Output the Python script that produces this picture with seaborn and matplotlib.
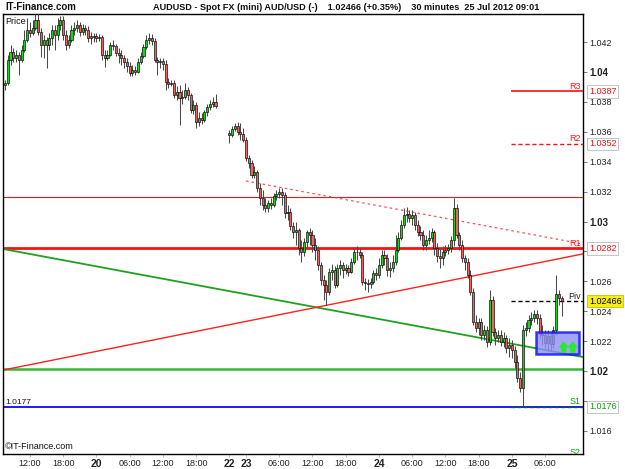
import numpy as np
import pandas as pd
import matplotlib
matplotlib.use("Agg")
import matplotlib.pyplot as plt
import matplotlib.transforms as mtransforms
from matplotlib.patches import Rectangle
import seaborn as sns

# ---------------- data (AUD/USD 30-minute candles) ----------------
# Thursday 19 Jul 07:30 .. 23:30
open_19 = [1.03913, 1.03927, 1.04080, 1.04134, 1.04094, 1.04114, 1.04080, 1.04147, 1.04214, 1.04281, 1.04261,
           1.04295, 1.04348, 1.04268, 1.04181, 1.04214, 1.04181, 1.04228, 1.04281, 1.04248, 1.04315, 1.04348,
           1.04248, 1.04181, 1.04214, 1.04281, 1.04295, 1.04315, 1.04268, 1.04295, 1.04281, 1.04228, 1.04241]
high_19 = [1.03947, 1.04114, 1.04181, 1.04161, 1.04147, 1.04134, 1.04181, 1.04281, 1.04362, 1.04335, 1.04348,
           1.04388, 1.04388, 1.04295, 1.04248, 1.04234, 1.04261, 1.04315, 1.04315, 1.04362, 1.04375, 1.04375,
           1.04281, 1.04248, 1.04315, 1.04335, 1.04348, 1.04335, 1.04321, 1.04315, 1.04308, 1.04268, 1.04261]
low_19 = [1.03880, 1.03913, 1.04047, 1.04067, 1.04067, 1.03980, 1.04067, 1.04134, 1.04201, 1.04234, 1.04248,
          1.04281, 1.04248, 1.04101, 1.04094, 1.04027, 1.04147, 1.04181, 1.04147, 1.04214, 1.04281, 1.04214,
          1.04147, 1.04161, 1.04201, 1.04248, 1.04268, 1.04241, 1.04248, 1.04248, 1.04201, 1.04188, 1.04201]
close_19 = [1.03927, 1.04080, 1.04134, 1.04094, 1.04114, 1.04080, 1.04147, 1.04214, 1.04281, 1.04261, 1.04295,
            1.04348, 1.04268, 1.04181, 1.04214, 1.04181, 1.04228, 1.04281, 1.04248, 1.04315, 1.04348, 1.04248,
            1.04181, 1.04214, 1.04281, 1.04295, 1.04315, 1.04268, 1.04295, 1.04281, 1.04228, 1.04241, 1.04234]

# Friday 20 Jul 00:00 .. 21:30
open_20 = [1.04241, 1.04228, 1.04234, 1.04114, 1.04094, 1.04114, 1.04181, 1.04174, 1.04127, 1.04114, 1.04094,
           1.04067, 1.04040, 1.03994, 1.04014, 1.04000, 1.04067, 1.04107, 1.04168, 1.04214, 1.04228, 1.04208,
           1.04080, 1.04067, 1.04074, 1.04054, 1.03934, 1.03920, 1.03927, 1.03846, 1.03867, 1.03826, 1.03833,
           1.03880, 1.03846, 1.03746, 1.03780, 1.03666, 1.03693, 1.03679, 1.03733, 1.03766, 1.03786, 1.03800]
high_20 = [1.04261, 1.04255, 1.04248, 1.04147, 1.04147, 1.04201, 1.04214, 1.04188, 1.04161, 1.04147, 1.04114,
           1.04094, 1.04067, 1.04047, 1.04040, 1.04094, 1.04134, 1.04188, 1.04248, 1.04261, 1.04255, 1.04228,
           1.04101, 1.04094, 1.04094, 1.04080, 1.03960, 1.03947, 1.03947, 1.03907, 1.03913, 1.03880, 1.03927,
           1.03900, 1.03860, 1.03813, 1.03800, 1.03733, 1.03726, 1.03746, 1.03786, 1.03813, 1.03833, 1.03853]
low_20 = [1.04201, 1.04208, 1.04080, 1.04034, 1.04080, 1.04107, 1.04147, 1.04107, 1.04060, 1.04047, 1.04027,
          1.04000, 1.03974, 1.03974, 1.03980, 1.03994, 1.04054, 1.04094, 1.04154, 1.04188, 1.04181, 1.04067,
          1.03980, 1.04027, 1.04014, 1.03880, 1.03893, 1.03907, 1.03826, 1.03813, 1.03646, 1.03786, 1.03820,
          1.03813, 1.03726, 1.03719, 1.03626, 1.03639, 1.03652, 1.03666, 1.03706, 1.03746, 1.03766, 1.03760]
close_20 = [1.04228, 1.04234, 1.04114, 1.04094, 1.04114, 1.04181, 1.04174, 1.04127, 1.04114, 1.04094, 1.04067,
            1.04040, 1.03994, 1.04014, 1.04000, 1.04067, 1.04107, 1.04168, 1.04214, 1.04228, 1.04208, 1.04080,
            1.04067, 1.04074, 1.04054, 1.03934, 1.03920, 1.03927, 1.03846, 1.03867, 1.03826, 1.03833, 1.03880,
            1.03846, 1.03746, 1.03780, 1.03666, 1.03693, 1.03679, 1.03733, 1.03766, 1.03786, 1.03800, 1.03773]

# Sunday 22 Jul 21:00 .. 23:30
open_22 = [1.03592, 1.03579, 1.03619, 1.03639, 1.03599, 1.03586]
high_22 = [1.03612, 1.03639, 1.03659, 1.03666, 1.03659, 1.03626]
low_22 = [1.03525, 1.03566, 1.03606, 1.03579, 1.03546, 1.03532]
close_22 = [1.03579, 1.03619, 1.03639, 1.03599, 1.03586, 1.03546]

# Monday 23 Jul 00:00 .. 23:30
open_23 = [1.03545, 1.03425, 1.03392, 1.03311, 1.03331, 1.03224, 1.03157, 1.03111, 1.03091, 1.03124, 1.03111,
           1.03171, 1.03184, 1.03198, 1.03177, 1.03057, 1.03064, 1.02970, 1.02930, 1.02943, 1.02823, 1.02796,
           1.02863, 1.02930, 1.02910, 1.02843, 1.02810, 1.02709, 1.02609, 1.02575, 1.02528, 1.02662, 1.02676,
           1.02575, 1.02689, 1.02709, 1.02676, 1.02689, 1.02662, 1.02729, 1.02796, 1.02796, 1.02776, 1.02595,
           1.02589, 1.02582, 1.02595, 1.02656]
high_23 = [1.03565, 1.03445, 1.03412, 1.03371, 1.03345, 1.03258, 1.03211, 1.03157, 1.03144, 1.03157, 1.03191,
           1.03211, 1.03224, 1.03224, 1.03198, 1.03111, 1.03091, 1.02997, 1.02997, 1.02957, 1.02876, 1.02890,
           1.02943, 1.02957, 1.02943, 1.02890, 1.02836, 1.02729, 1.02642, 1.02609, 1.02689, 1.02716, 1.02703,
           1.02716, 1.02743, 1.02729, 1.02716, 1.02709, 1.02756, 1.02823, 1.02836, 1.02823, 1.02796, 1.02622,
           1.02616, 1.02622, 1.02676, 1.02689]
low_23 = [1.03405, 1.03358, 1.03291, 1.03291, 1.03198, 1.03111, 1.03077, 1.03064, 1.03064, 1.03084, 1.03097,
          1.03144, 1.03157, 1.03111, 1.03024, 1.03010, 1.02943, 1.02890, 1.02843, 1.02776, 1.02729, 1.02769,
          1.02823, 1.02843, 1.02796, 1.02743, 1.02676, 1.02575, 1.02475, 1.02441, 1.02508, 1.02609, 1.02555,
          1.02562, 1.02642, 1.02622, 1.02649, 1.02636, 1.02656, 1.02716, 1.02743, 1.02756, 1.02575, 1.02542,
          1.02528, 1.02555, 1.02582, 1.02609]
close_23 = [1.03425, 1.03392, 1.03311, 1.03331, 1.03224, 1.03157, 1.03111, 1.03091, 1.03124, 1.03111, 1.03171,
            1.03184, 1.03198, 1.03177, 1.03057, 1.03064, 1.02970, 1.02930, 1.02943, 1.02823, 1.02796, 1.02863,
            1.02930, 1.02910, 1.02843, 1.02810, 1.02709, 1.02609, 1.02575, 1.02528, 1.02662, 1.02676, 1.02575,
            1.02689, 1.02709, 1.02676, 1.02689, 1.02662, 1.02729, 1.02796, 1.02796, 1.02776, 1.02595, 1.02589,
            1.02582, 1.02595, 1.02656, 1.02642]

# Tuesday 24 Jul 00:00 .. 23:30
open_24 = [1.02642, 1.02709, 1.02776, 1.02756, 1.02676, 1.02689, 1.02729, 1.02810, 1.02890, 1.02977, 1.03044,
           1.03050, 1.03024, 1.03044, 1.02977, 1.02930, 1.02910, 1.02843, 1.02876, 1.02890, 1.02930, 1.02823,
           1.02769, 1.02756, 1.02796, 1.02810, 1.02823, 1.02876, 1.03091, 1.02910, 1.02843, 1.02756, 1.02729,
           1.02642, 1.02528, 1.02328, 1.02288, 1.02328, 1.02241, 1.02274, 1.02194, 1.02475, 1.02261, 1.02221,
           1.02241, 1.02194, 1.02221, 1.02154]
high_24 = [1.02756, 1.02810, 1.02810, 1.02783, 1.02729, 1.02776, 1.02910, 1.02930, 1.03010, 1.03091, 1.03097,
           1.03077, 1.03077, 1.03064, 1.03010, 1.02970, 1.02943, 1.02910, 1.02943, 1.02957, 1.02943, 1.02856,
           1.02823, 1.02836, 1.02843, 1.02850, 1.02903, 1.03157, 1.03117, 1.02930, 1.02876, 1.02776, 1.02756,
           1.02676, 1.02555, 1.02375, 1.02355, 1.02355, 1.02308, 1.02301, 1.02542, 1.02502, 1.02288, 1.02274,
           1.02274, 1.02261, 1.02241, 1.02221]
low_24 = [1.02622, 1.02689, 1.02709, 1.02636, 1.02629, 1.02662, 1.02709, 1.02796, 1.02876, 1.02957, 1.02997,
          1.02997, 1.02977, 1.02943, 1.02903, 1.02876, 1.02810, 1.02810, 1.02850, 1.02863, 1.02776, 1.02729,
          1.02689, 1.02709, 1.02769, 1.02783, 1.02796, 1.02836, 1.02890, 1.02810, 1.02729, 1.02676, 1.02622,
          1.02508, 1.02308, 1.02261, 1.02241, 1.02207, 1.02207, 1.02161, 1.02174, 1.02234, 1.02174, 1.02194,
          1.02167, 1.02161, 1.02120, 1.02094]
close_24 = [1.02709, 1.02776, 1.02756, 1.02676, 1.02689, 1.02729, 1.02810, 1.02890, 1.02977, 1.03044, 1.03050,
            1.03024, 1.03044, 1.02977, 1.02930, 1.02910, 1.02843, 1.02876, 1.02890, 1.02930, 1.02823, 1.02769,
            1.02756, 1.02796, 1.02810, 1.02823, 1.02876, 1.03091, 1.02910, 1.02843, 1.02756, 1.02729, 1.02642,
            1.02528, 1.02328, 1.02288, 1.02328, 1.02241, 1.02274, 1.02194, 1.02475, 1.02261, 1.02221, 1.02241,
            1.02194, 1.02221, 1.02154, 1.02174]

# Wednesday 25 Jul 00:00 .. 09:00
open_25 = [1.02174, 1.02140, 1.02060, 1.01953, 1.01886, 1.02274, 1.02288, 1.02341, 1.02355, 1.02381, 1.02355,
           1.02248, 1.02241, 1.02187, 1.02234, 1.02181, 1.02274, 1.02515, 1.02488]
high_25 = [1.02207, 1.02167, 1.02107, 1.01993, 1.02308, 1.02328, 1.02375, 1.02395, 1.02408, 1.02408, 1.02381,
           1.02308, 1.02274, 1.02274, 1.02261, 1.02301, 1.02642, 1.02542, 1.02502]
low_25 = [1.02087, 1.02020, 1.01927, 1.01860, 1.01765, 1.02234, 1.02261, 1.02308, 1.02328, 1.02315, 1.02221,
          1.02174, 1.02154, 1.02140, 1.02140, 1.02154, 1.02241, 1.02441, 1.02368]
close_25 = [1.02140, 1.02060, 1.01953, 1.01886, 1.02274, 1.02288, 1.02341, 1.02355, 1.02381, 1.02355, 1.02248,
            1.02241, 1.02187, 1.02234, 1.02181, 1.02274, 1.02515, 1.02488, 1.02466]

session_starts = ["2012-07-19 07:30", "2012-07-20 00:00", "2012-07-22 21:00",
                  "2012-07-23 00:00", "2012-07-24 00:00", "2012-07-25 00:00"]

# price levels
level_R3 = 1.0387
level_R2 = 1.0352
level_R1 = 1.0282
level_pivot = 1.02466
level_S1 = 1.0176
level_upper = 1.03164
level_support = 1.02013
low_mark = "1.0177"

# trend lines: (time, price) anchors
green_trend = [("2012-07-19 07:30", 1.02814), ("2012-07-25 09:00", 1.02120)]
red_trend = [("2012-07-19 07:30", 1.02009), ("2012-07-25 09:00", 1.02755)]
dotted_trend = [("2012-07-23 00:00", 1.03271), ("2012-07-25 09:00", 1.02876)]

# signal box (prices)
box_low, box_high = 1.02114, 1.02261

# axis values (labels hidden behind level boxes are left blank)
price_ticks = [1.016, 1.018, 1.020, 1.022, 1.024, 1.026, 1.028, 1.030, 1.032, 1.034, 1.036, 1.038, 1.040, 1.042]
price_labels = ["1.016", "", "1.02", "1.022", "1.024", "1.026", "", "1.03", "1.032", "1.034", "1.036",
                "1.038", "1.04", "1.042"]

# ---------------- assemble ----------------
opens = np.array(open_19 + open_20 + open_22 + open_23 + open_24 + open_25)
highs = np.array(high_19 + high_20 + high_22 + high_23 + high_24 + high_25)
lows = np.array(low_19 + low_20 + low_22 + low_23 + low_24 + low_25)
closes = np.array(close_19 + close_20 + close_22 + close_23 + close_24 + close_25)
counts = [len(open_19), len(open_20), len(open_22), len(open_23), len(open_24), len(open_25)]
times = pd.DatetimeIndex(np.concatenate(
    [pd.date_range(s, periods=n, freq="30min").values for s, n in zip(session_starts, counts)]))
weekend_gap = 4
pos = np.arange(len(times)) + np.where(times >= pd.Timestamp("2012-07-22"), weekend_gap, 0)
time_to_pos = dict(zip(times, pos))

df = pd.DataFrame({"time": times, "pos": pos, "open": opens, "high": highs, "low": lows, "close": closes})

sns.set_theme(style="white")
plt.rcParams['font.family'] = ['Liberation Sans', 'DejaVu Sans']

W, H = 625, 469
fig = plt.figure(figsize=(W / 100, H / 100), dpi=100)
fig.patch.set_facecolor("white")
ax = fig.add_axes([3 / W, 1 - 454 / H, 580 / W, 440 / H])
ax.set_facecolor("white")

xmin = -0.72
xmax = xmin + 580 / 2.77
ymin, ymax = 1.01445, 1.04388
ax.set_xlim(xmin, xmax)
ax.set_ylim(ymin, ymax)

# candles
up = df["close"] >= df["open"]
body_col = np.where(up, "#1fd01f", "#ea6464")
ax.vlines(df["pos"], df["low"], df["high"], color="#4a4a4a", lw=0.75, zorder=3)
ax.bar(df["pos"], np.maximum((df["close"] - df["open"]).abs(), 0.00003),
       bottom=np.minimum(df["open"], df["close"]), width=0.75,
       color=body_col, edgecolor="black", linewidth=0.45, zorder=4)

# levels
wed_start = df.loc[df["time"] >= pd.Timestamp("2012-07-25"), "pos"].iloc[0] - 0.5
ax.axhline(level_upper, color="#e31a1a", lw=0.8, zorder=2)
ax.axhline(level_R1, color="#ff1010", lw=2.0, zorder=2)
ax.axhline(level_support, color="#33b833", lw=1.8, zorder=2)
ax.axhline(level_S1, color="#1a1aff", lw=1.4, zorder=2)
ax.hlines(level_S1, wed_start, xmax, color="#116611", lw=1.0, linestyles=(0, (2.5, 2)), zorder=2.1)
ax.hlines(level_R3, wed_start, xmax, color="#ff1010", lw=1.2, zorder=2)
ax.hlines(level_R2, wed_start, xmax, color="#ff1010", lw=1.0, linestyles=(0, (3, 2)), zorder=2)
ax.hlines(level_pivot, wed_start, xmax, color="black", lw=1.0, linestyles=(0, (3, 2)), zorder=2)


def trend_xy(anchors, x0, x1):
    (t0, p0), (t1, p1) = anchors
    a0, a1 = time_to_pos[pd.Timestamp(t0)], time_to_pos[pd.Timestamp(t1)]
    slope = (p1 - p0) / (a1 - a0)
    xs = np.array([x0, x1])
    return xs, p0 + slope * (xs - a0)


gx, gy = trend_xy(green_trend, xmin, xmax)
sns.lineplot(x=gx, y=gy, ax=ax, color="#1fa01f", lw=1.3, zorder=2.5)
rx, ry = trend_xy(red_trend, xmin, xmax)
sns.lineplot(x=rx, y=ry, ax=ax, color="#ff2020", lw=1.0, zorder=2.5)
d0 = time_to_pos[pd.Timestamp(dotted_trend[0][0])]
dx, dy = trend_xy(dotted_trend, d0, xmax)
ax.plot(dx, dy, color="#ff3030", lw=0.9, ls=(0, (2, 2.5)), alpha=0.85, zorder=2.5)

# signal box with arrows
last_pos = df["pos"].iloc[-1]
box_left = last_pos - 9.4
box = Rectangle((box_left, box_low), 15.5, box_high - box_low, facecolor="#8f8ff5", alpha=0.8,
                edgecolor="#0a0aff", lw=1.8, zorder=5)
ax.add_patch(box)
for ax_x in (last_pos + 0.7, last_pos + 4.0):
    ax.annotate("", xy=(ax_x, box_low + 0.00085), xytext=(ax_x, box_low + 0.00008),
                arrowprops=dict(arrowstyle="simple,head_length=0.5,head_width=0.8,tail_width=0.4",
                                mutation_scale=9, shrinkA=0, shrinkB=0,
                                color="#22ee22", ec="#22ee22", lw=0.1), zorder=6)

# level labels on the chart
lab_kw = dict(ha="right", va="bottom", fontsize=6.5, zorder=7)
xr = xmax - 0.8
ax.text(xr, level_R3 + 0.00004, "R3", color="#ff1010", **lab_kw)
ax.text(xr, level_R2 + 0.00004, "R2", color="#ff1010", **lab_kw)
ax.text(xr, level_R1 + 0.00006, "R1", color="#ff1010", **lab_kw)
ax.text(xr, level_pivot + 0.00004, "Piv", color="#222222", **lab_kw)
ax.text(xr, level_S1 + 0.00004, "S1", color="#119911", **lab_kw)
ax.text(xr, ymin - 0.00022, "S2", color="#119911", ha="right", va="bottom", fontsize=6.5, clip_on=True)
ax.text(0.004, level_S1 + 0.00005, low_mark, transform=mtransforms.blended_transform_factory(ax.transAxes, ax.transData),
        ha="left", va="bottom", fontsize=6, color="#111111")
ax.text(0.004, 0.993, "Price", transform=ax.transAxes, ha="left", va="top", fontsize=6.5, color="#111111")
ax.text(0.004, 0.006, "\u00a9IT-Finance.com", transform=ax.transAxes, ha="left", va="bottom",
        fontsize=6.5, color="#111111")

# spines
for s in ax.spines.values():
    s.set_color("black")
    s.set_linewidth(1.0)

# right price axis
ax.yaxis.tick_right()
ax.set_yticks(price_ticks)
ax.set_yticklabels(price_labels)
ax.tick_params(axis="y", which="major", right=True, length=3, width=0.6, color="#666666",
               pad=1.5, labelsize=6.5, labelcolor="#222222")
for lab in ax.get_yticklabels():
    if lab.get_text() in ("1.02", "1.03", "1.04"):
        lab.set_fontweight("bold")
        lab.set_fontsize(7)

bt = mtransforms.blended_transform_factory(ax.transAxes, ax.transData)
box_kw = dict(transform=bt, ha="left", va="center", fontsize=6.5, zorder=10, clip_on=False)
ax.text(1.0105, level_R3, "1.0387", color="#ee1111",
        bbox=dict(boxstyle="square,pad=0.18", fc="white", ec="#bbbbbb", lw=0.6), **box_kw)
ax.text(1.0105, level_R2, "1.0352", color="#ee1111",
        bbox=dict(boxstyle="square,pad=0.18", fc="white", ec="#bbbbbb", lw=0.6), **box_kw)
ax.text(1.0105, level_R1, "1.0282", color="#ee1111",
        bbox=dict(boxstyle="square,pad=0.18", fc="white", ec="#bbbbbb", lw=0.6), **box_kw)
ax.text(1.0105, level_pivot, "1.02466", color="black",
        bbox=dict(boxstyle="square,pad=0.18", fc="#f8ee10", ec="#c8c000", lw=0.6), **box_kw)
ax.text(1.0105, level_S1, "1.0176", color="#119911",
        bbox=dict(boxstyle="square,pad=0.18", fc="white", ec="#bbbbbb", lw=0.6), **box_kw)

# time axis
tick_pos, tick_lab, tick_bold = [], [], []
prev_day = times[0].day
for i, t in enumerate(times):
    if i == 0:
        continue
    if t.day != prev_day:
        tick_pos.append(pos[i]); tick_lab.append(str(t.day)); tick_bold.append(True)
    elif t.minute == 0 and t.hour in (6, 12, 18):
        tick_pos.append(pos[i]); tick_lab.append(t.strftime("%H:%M")); tick_bold.append(False)
    prev_day = t.day
ax.set_xticks(tick_pos)
ax.set_xticklabels(tick_lab)
ax.tick_params(axis="x", bottom=True, length=2, width=0.6, color="#aaaaaa", pad=1.5,
               labelsize=6.5, labelcolor="#222222")
for lab, b in zip(ax.get_xticklabels(), tick_bold):
    if b:
        lab.set_fontweight("bold")
        lab.set_fontsize(7.5)
ax.set_xlabel("")
ax.set_ylabel("")
ax.grid(False)

# header
fig.text(5 / W, 1 - 7 / H, "IT-Finance.com", ha="left", va="center", fontsize=7, fontweight="bold", color="#111111")
fig.text(153 / W, 1 - 7 / H,
         "AUDUSD - Spot FX (mini) AUD/USD (-)    1.02466 (+0.35%)    30 minutes  25 Jul 2012 09:01",
         ha="left", va="center", fontsize=6.6, fontweight="bold", color="#111111")

fig.savefig("out.png", dpi=100, facecolor="white")
